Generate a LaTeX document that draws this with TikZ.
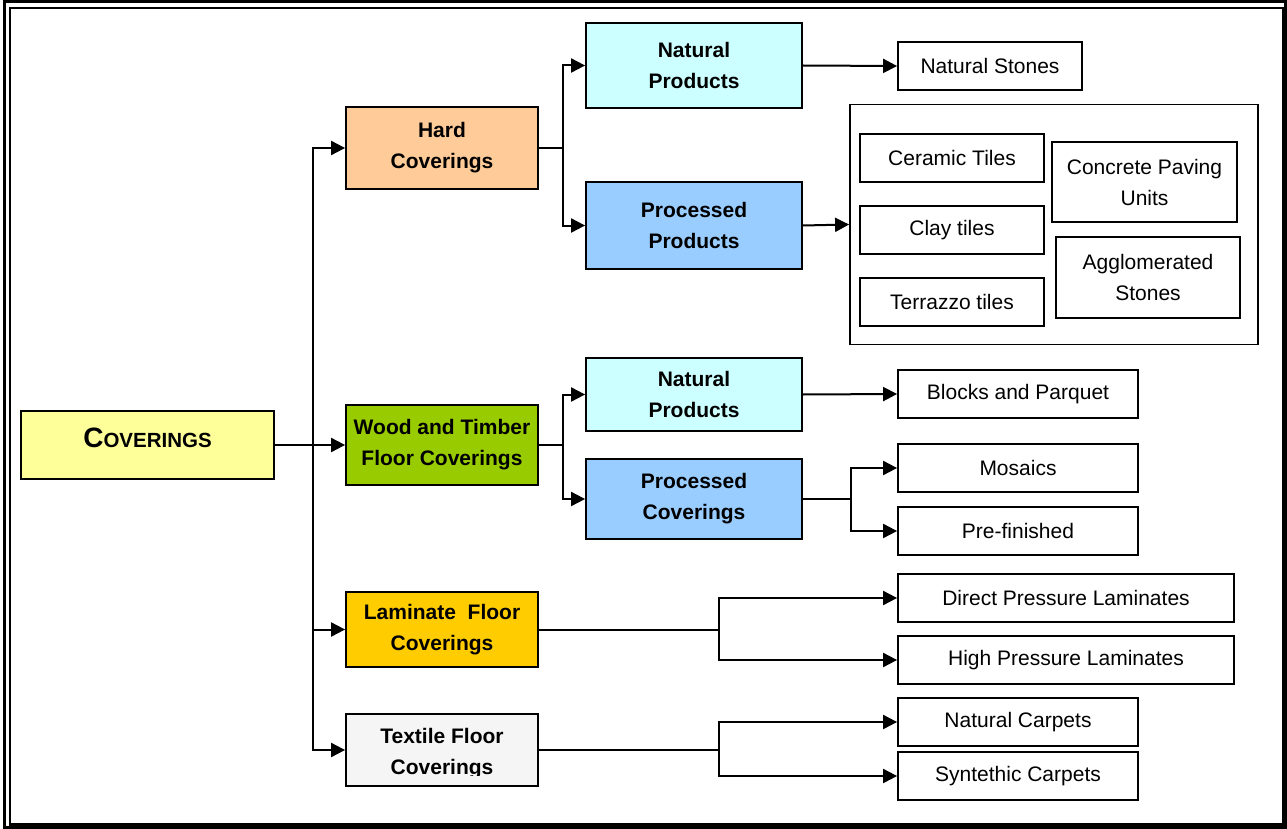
\documentclass[tikz,border=0pt]{standalone}
\usepackage{fontspec}
\setmainfont{Liberation Sans}
\usetikzlibrary{arrows.meta,positioning}

\definecolor{rootyellow}{HTML}{FFFF99}
\definecolor{hardpeach}{HTML}{FFCC99}
\definecolor{woodgreen}{HTML}{99CC00}
\definecolor{lamgold}{HTML}{FFCC00}
\definecolor{textgray}{HTML}{F5F5F5}
\definecolor{natcyan}{HTML}{CCFFFF}
\definecolor{procblue}{HTML}{99CCFF}

\tikzset{
  box/.style={draw, line width=1.8pt, inner sep=0pt, align=center,
    font=\fontsize{21}{31}\selectfont},
  headbox/.style={box, font=\bfseries\fontsize{21}{31}\selectfont},
  catbox/.style={headbox, minimum width=192pt},
  subbox/.style={headbox, minimum width=216pt},
  leafbox/.style={box, minimum width=240pt, minimum height=48pt},
  tilebox/.style={box, minimum width=184pt, minimum height=48pt},
  conn/.style={line width=2pt, -{Triangle[length=14pt,width=14pt]}}
}

\begin{document}
\begin{tikzpicture}[x=1pt, y=-1pt]
    \useasboundingbox (0,0) rectangle (1287,829);
    % frame
    \draw[line width=3pt] (4,1.5) rectangle (1285.5,827.5);
    \draw[line width=2.5pt] (10,8) rectangle (1283,824.5);

    % root
    \node[headbox, fill=rootyellow, minimum width=253pt, minimum height=68pt] (root) at (147.5,445)
        {\raisebox{14pt}{{\fontsize{28}{31}\selectfont C}{\fontsize{20.5}{31}\selectfont OVERINGS}}};

    % Hard coverings
    \node[catbox, fill=hardpeach, minimum height=82pt] (hard) at (442,148) {Hard\\Coverings};
    \node[subbox, fill=natcyan, minimum height=85pt] (hardnat) at (694,65.5) {Natural\\Products};
    \node[subbox, fill=procblue, minimum height=87pt] (hardproc) at (694,225.5) {Processed\\Products};
    \node[box, minimum width=184pt, minimum height=48pt] (stones) at (990,66) {Natural Stones};
    \node[draw, line width=1.8pt, minimum width=408pt, minimum height=240pt, inner sep=0pt] (prodgroup) at (1054,224.5) {};
    \node[tilebox] (ceramic) at (952,158) {Ceramic Tiles};
    \node[tilebox] (clay) at (952,230) {Clay tiles};
    \node[tilebox] (terrazzo) at (952,302) {Terrazzo tiles};
    \node[box, minimum width=185pt, minimum height=80pt] (paving) at (1144.5,182) {Concrete Paving\\Units};
    \node[box, minimum width=184pt, minimum height=81pt] (agglo) at (1148,277.5) {Agglomerated\\Stones};

    % Wood and timber
    \node[catbox, fill=woodgreen, minimum height=80pt] (wood) at (442,445) {Wood and Timber\\Floor Coverings};
    \node[subbox, fill=natcyan, minimum height=73pt] (woodnat) at (694,394.5) {Natural\\Products};
    \node[subbox, fill=procblue, minimum height=80pt] (woodproc) at (694,499) {Processed\\Coverings};
    \node[leafbox] (parquet) at (1018,394) {Blocks and Parquet};
    \node[leafbox] (mosaics) at (1018,468) {Mosaics};
    \node[leafbox] (prefin) at (1018,531) {Pre-finished};

    % Laminate
    \node[catbox, fill=lamgold, minimum height=75pt] (laminate) at (442,629.5) {Laminate~ Floor\\Coverings};
    \node[leafbox, minimum width=336pt] (directlam) at (1066,598) {Direct Pressure Laminates};
    \node[leafbox, minimum width=336pt] (highlam) at (1066,660) {High Pressure Laminates};

    % Textile
    \node[catbox, fill=textgray, minimum height=72pt] (textile) at (442,750) {};
    \begin{scope}
        \clip (347,716) rectangle (537,775.5);
        \node[headbox, draw=none] (textilelbl) at (442,754) {Textile Floor\\Coverings};
    \end{scope}
    \node[leafbox] (natcarpet) at (1018,722) {Natural Carpets};
    \node[leafbox] (syncarpet) at (1018,776) {Syntethic Carpets};

    % connectors
    \foreach \n in {hard, wood, laminate, textile}
        \draw[conn] (root.east) -- ++(38,0) |- (\n.west);
    \foreach \n in {hardnat, hardproc}
        \draw[conn] (hard.east) -- ++(24,0) |- (\n.west);
    \foreach \n in {woodnat, woodproc}
        \draw[conn] (wood.east) -- ++(24,0) |- (\n.west);
    \draw[conn] (hardnat.east) -- (stones.west);
    \draw[conn] (hardproc.east) -- (prodgroup.west);
    \draw[conn] (woodnat.east) -- (parquet.west);
    \foreach \n in {mosaics, prefin}
        \draw[conn] (woodproc.east) -- ++(48,0) |- (\n.west);
    \foreach \n in {directlam, highlam}
        \draw[conn] (laminate.east) -- ++(180,0) |- (\n.west);
    \foreach \n in {natcarpet, syncarpet}
        \draw[conn] (textile.east) -- ++(180,0) |- (\n.west);
\end{tikzpicture}
\end{document}
